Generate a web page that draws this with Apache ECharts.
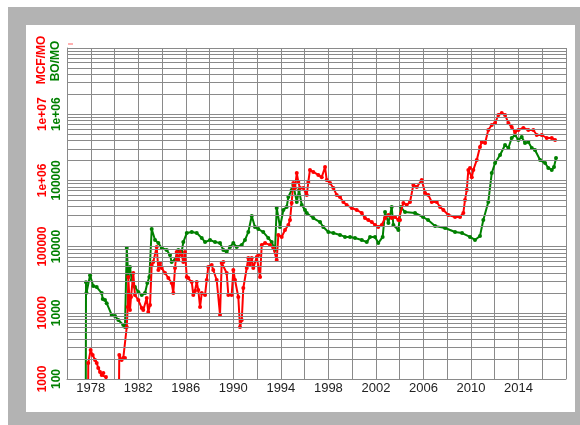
<!DOCTYPE html>
<html><head><meta charset="utf-8">
<script src="https://cdn.jsdelivr.net/npm/echarts@6/dist/echarts.min.js"></script>
<style>html,body{margin:0;padding:0;background:#fff}#c{width:580px;height:425px}</style>
</head><body><div id="c"></div>
<script>
// x tick labels (years)
const xLabelYears = [1978, 1982, 1986, 1990, 1994, 1998, 2002, 2006, 2010, 2014];

// Gas production (MCF/MO), red, left outer axis
const redYears = [1977.76,1977.79,1977.99,1978.16,1978.36,1978.50,1978.63,1978.78,1978.92,1979.06,1979.28,1979.37,
1980.37,1980.40,1980.60,1980.74,1980.88,1981.03,1981.11,1981.16,1981.30,1981.39,1981.58,1981.72,1982.00,1982.29,1982.42,
1982.71,1982.84,1982.99,1983.13,1983.26,1983.55,1983.69,1983.83,1983.97,1984.25,1984.53,1984.81,1984.95,1985.09,1985.23,
1985.37,1985.51,1985.65,1985.79,1985.93,1986.08,1986.21,1986.50,1986.63,1986.77,1986.92,1987.05,1987.20,1987.34,1987.62,
1987.76,1987.89,1988.18,1988.31,1988.60,1988.88,1989.02,1989.16,1989.44,1989.58,1989.86,1990.00,1990.14,1990.42,1990.56,
1990.71,1990.84,1991.13,1991.26,1991.40,1991.55,1991.68,1991.97,1992.10,1992.25,1992.39,1992.67,1993.09,1993.37,1993.65,
1993.79,1994.07,1994.35,1994.63,1994.77,1994.91,1995.05,1995.19,1995.34,1995.47,1995.61,1995.89,1996.18,1996.31,1996.45,
1996.73,1997.15,1997.44,1997.72,1997.86,1998.14,1998.42,1998.70,1998.98,1999.26,1999.54,1999.96,2000.39,2000.81,2001.08,
2001.36,2001.65,2001.93,2002.20,2002.49,2002.77,2003.05,2003.33,2003.61,2003.89,2004.03,2004.31,2004.59,2004.87,2005.15,
2005.44,2005.86,2006.14,2006.41,2006.70,2007.12,2007.40,2007.68,2008.10,2008.66,2009.08,2009.36,2009.50,2009.65,2009.78,
2009.92,2010.07,2010.20,2010.49,2010.76,2010.91,2011.19,2011.46,2011.75,2012.03,2012.31,2012.59,2012.87,2013.15,2013.43,
2013.71,2013.99,2014.41,2014.83,2015.25,2015.54,2015.96,2016.38,2016.80,2017.08];
const redValues = [100,1750,2740,2300,1940,1750,1470,1280,1150,1230,1070,500,
500,2300,1940,2080,2080,6100,12200,34700,11000,17300,39900,18600,15600,11800,11000,
16700,10300,13100,52700,58500,98600,44300,56500,47500,39900,33600,28200,19900,47500,82800,
62800,82800,74700,58500,82800,34700,33600,29200,18600,21300,29200,22100,12200,19900,18600,
31300,49200,52700,44300,31300,9270,56500,58500,39900,18600,18600,44300,31300,17300,6100,
7780,23700,47500,67300,52700,67300,47500,69700,74700,34700,106000,113000,106000,95300,62800,
150000,140000,178000,212000,252000,456000,914000,767000,1290000,946000,767000,767000,601000,946000,1440000,
1340000,1210000,1120000,1590000,1010000,914000,767000,601000,561000,472000,425000,383000,357000,322000,270000,
252000,235000,212000,198000,212000,270000,300000,270000,280000,252000,252000,456000,425000,472000,853000,
795000,1010000,645000,601000,472000,472000,396000,357000,300000,280000,280000,322000,506000,716000,1440000,
1540000,1120000,1440000,2030000,3200000,3800000,3670000,5770000,6870000,7360000,9730000,10400000,9730000,7360000,6410000,
5380000,5770000,6190000,5770000,5770000,4850000,4850000,4370000,4370000,4080000];

// Oil production (BO/MO), green, left inner axis
const greenYears = [1977.57,1977.60,1977.64,1977.94,1978.21,1978.50,1978.92,1979.01,1979.20,1979.34,1979.76,1980.04,
1980.32,1980.74,1980.88,1981.03,1981.16,1981.30,1981.45,1981.72,1982.00,1982.29,1982.57,1982.76,1982.93,1983.13,1983.41,
1983.69,1983.97,1984.39,1984.67,1984.81,1985.09,1985.37,1985.65,1985.79,1986.08,1986.50,1986.92,1987.34,1987.62,1988.04,
1988.46,1988.88,1989.16,1989.44,1989.72,1990.00,1990.28,1990.71,1990.98,1991.26,1991.55,1991.82,1992.10,1992.52,1992.94,
1993.23,1993.51,1993.65,1993.93,1994.21,1994.49,1994.63,1994.91,1995.05,1995.34,1995.53,1995.76,1996.03,1996.18,1996.73,
1997.30,1997.57,1998.00,1998.42,1998.98,1999.40,1999.82,2000.24,2000.81,2001.23,2001.51,2001.93,2002.20,2002.57,2002.77,
2003.05,2003.33,2003.47,2003.89,2004.11,2004.45,2005.29,2005.97,2006.39,2006.98,2007.82,2008.66,2009.25,2009.92,2010.34,
2010.76,2011.04,2011.46,2011.75,2012.03,2012.45,2012.87,2013.15,2013.43,2013.71,2013.99,2014.27,2014.55,2014.83,2015.12,
2015.39,2015.82,2016.24,2016.51,2016.80,2016.99,2017.16];
const greenValues = [10,2900,2000,3700,2540,2450,1990,1620,1560,1400,927,895,
778,655,610,9530,3470,4920,3130,2450,2060,1860,1990,2820,3470,18450,12600,
11300,9530,8890,7470,5850,6280,8890,8280,11700,16000,16600,16000,13500,11700,12600,
11700,11300,8890,8280,9860,11300,9860,10600,12600,16600,29000,19800,18450,16600,13500,
11700,8890,38300,19800,35700,39600,56100,71600,85300,47200,71600,42500,35700,32200,27000,
23500,19800,16600,16000,15000,14000,14000,13500,12600,11700,14000,14000,11300,14000,33300,
22700,39600,21200,17800,39600,33300,32200,28000,25200,20500,19100,16600,16000,14000,12600,
14500,25200,47200,129000,183000,242000,343000,308000,437000,485000,407000,453000,367000,380000,308000,
288000,203000,183000,154000,144000,159000,218000];

// log grid: multipliers within each decade, red-axis decades
const gridMultipliers = [1,2,3,4,5,6,7,8,9];
const gridDecades = [1e3,1e4,1e5,1e6,1e7];
const gridTop = 1e8;

const gridValues = [];
gridDecades.forEach(d => gridMultipliers.forEach(m => gridValues.push(m * d)));
gridValues.push(gridTop);

const redData = redYears.map((y, i) => [y, redValues[i]]);
const greenData = greenYears.map((y, i) => [y, greenValues[i]]);

const GRID = '#8a8a8a';
const FONT = 'Liberation Sans';
function rFmt(v) {
  const e = Math.round(Math.log10(v));
  if (v >= 1e6) return '1e+' + String(e).padStart(2, '0');
  return String(Math.round(v));
}

const chart = echarts.init(document.getElementById('c'), null, {renderer: 'canvas'});
chart.setOption({
  animation: false,
  backgroundColor: '#ffffff',
  grid: {left: 67, right: 14, top: 48, bottom: 46, show: false},
  graphic: [
    {type: 'rect', z: -20, shape: {x: 8, y: 7, width: 580, height: 425}, style: {fill: '#b3b3b3'}, silent: true},
    {type: 'rect', z: -19, shape: {x: 26, y: 25, width: 549, height: 387}, style: {fill: '#ffffff'}, silent: true},
    {type: 'rect', z: 10, shape: {x: 68, y: 43, width: 5, height: 2}, style: {fill: '#ffb0b0'}, silent: true},
    {type: 'text', z: 10, x: 42, y: 60, rotation: Math.PI / 2,
      style: {text: 'MCF/MO', fill: '#ff0000', font: 'bold 12px "Liberation Sans"', align: 'center', verticalAlign: 'middle', textAlign: 'center', textVerticalAlign: 'middle'}},
    {type: 'text', z: 10, x: 56, y: 61, rotation: Math.PI / 2,
      style: {text: 'BO/MO', fill: '#008000', font: 'bold 12px "Liberation Sans"', align: 'center', verticalAlign: 'middle', textAlign: 'center', textVerticalAlign: 'middle'}}
  ],
  xAxis: {
    type: 'value', min: 1976, max: 2018, interval: 2,
    axisLine: {show: true, lineStyle: {color: GRID, width: 1}},
    axisTick: {show: false},
    splitLine: {show: true, lineStyle: {color: GRID, width: 1}},
    axisLabel: {
      color: '#222', fontSize: 13, fontFamily: FONT, margin: 3,
      formatter: v => xLabelYears.indexOf(v) >= 0 ? String(v) : ''
    }
  },
  yAxis: [
    {
      type: 'log', logBase: 10, min: 1e3, max: 1e8, splitNumber: 5, position: 'left',
      axisLine: {show: true, lineStyle: {color: GRID, width: 1}},
      axisTick: {show: false}, splitLine: {show: false},
      axisLabel: {rotate: 90, margin: 18, color: '#ff0000', fontWeight: 'bold', fontSize: 12, fontFamily: FONT,
        showMaxLabel: false, formatter: rFmt}
    },
    {
      type: 'log', logBase: 10, min: 1e2, max: 1e7, splitNumber: 5, position: 'left',
      axisLine: {show: false}, axisTick: {show: false}, splitLine: {show: false},
      axisLabel: {rotate: 90, margin: 4, color: '#008000', fontWeight: 'bold', fontSize: 12, fontFamily: FONT,
        showMaxLabel: false, formatter: rFmt}
    }
  ],
  series: [
    {
      name: 'grid', type: 'line', yAxisIndex: 0, data: [], z: 1, silent: true,
      markLine: {
        silent: true, symbol: ['none', 'none'], label: {show: false}, animation: false,
        lineStyle: {color: GRID, width: 1, type: 'solid'},
        emphasis: {disabled: true},
        data: gridValues.map(v => ({yAxis: v}))
      }
    },
    {
      name: 'BO/MO', type: 'line', yAxisIndex: 1, data: greenData, z: 3,
      symbol: 'circle', symbolSize: 4, showSymbol: true,
      lineStyle: {color: '#008000', width: 2}, itemStyle: {color: '#008000'}
    },
    {
      name: 'MCF/MO', type: 'line', yAxisIndex: 0, data: redData, z: 4,
      symbol: 'circle', symbolSize: 4, showSymbol: true,
      lineStyle: {color: '#ff0000', width: 2}, itemStyle: {color: '#ff0000'}
    }
  ]
});
</script>
</body></html>
